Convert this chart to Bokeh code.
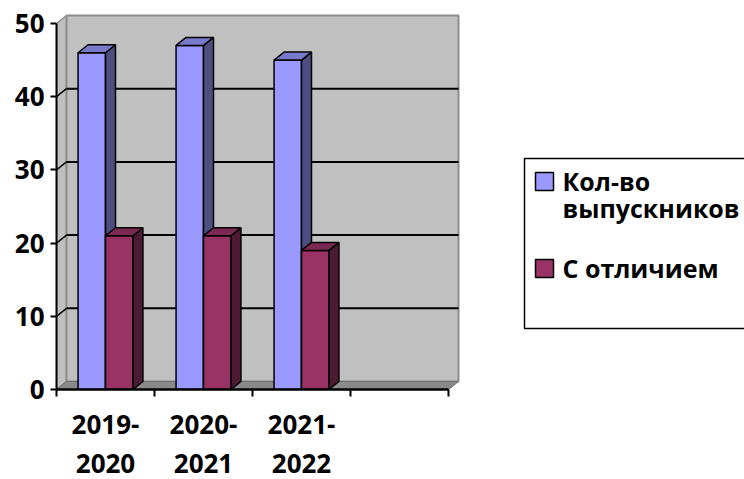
from bokeh.plotting import figure
from bokeh.models import Range1d, LinearAxis, FixedTicker
from bokeh.core.properties import value
from bokeh.embed import file_html
from bokeh.resources import INLINE

# ---- data ----
categories_line1 = ["2019-", "2020-", "2021-"]
categories_line2 = ["2020", "2021", "2022"]
graduates = [46, 47, 45]        # Кол-во выпускников
honors = [21, 21, 19]           # С отличием
series_names = ["Кол-во", "выпускников", "С отличием"]
y_ticks = [0, 10, 20, 30, 40, 50]

# ---- geometry (pixels of the picture) ----
PX_X0, PX_PER_CAT = 56, 98.0     # category 0 edge, px per category
PX_Y0, PX_PER_UNIT = 389, 7.32   # value 0, px per value unit
FRAME_TOP_PX = 10
N_CAT = 4
DX = 10 / PX_PER_CAT             # depth offset in category units
DY = 8 / PX_PER_UNIT             # depth offset in value units
BAR_W = 0.28
YMAX = 50

W, H = 744, 479

def sx(px):
    return (px - PX_X0) / PX_PER_CAT

def sy(py):
    return (PX_Y0 - py) / PX_PER_UNIT

FONT_NAME = "Open Sans"
FONT = value(FONT_NAME)
FSIZE = "26px"
LEGEND_FSIZE = "25px"

p = figure(width=W, height=H, output_backend="svg", toolbar_location=None,
           x_range=Range1d(0, sx(W)), y_range=Range1d(0, sy(FRAME_TOP_PX)),
           x_axis_location=None, y_axis_location=None,
           min_border_left=PX_X0, min_border_right=0,
           min_border_top=FRAME_TOP_PX, min_border_bottom=H - PX_Y0)
p.grid.visible = False
p.outline_line_color = None
p.background_fill_color = "white"
p.border_fill_color = "white"

# ---- walls and floor ----
p.patch([0, DX, DX, 0], [0, DY, YMAX + DY, YMAX], fill_color="#C0C0C0",
        line_color="#8C8C8C", line_width=1.5)
p.quad(left=DX, right=N_CAT + DX, bottom=DY, top=YMAX + DY, fill_color="#C0C0C0",
       line_color="#8C8C8C", line_width=2)
p.patch([0, N_CAT, N_CAT + DX, DX], [0, 0, DY, DY], fill_color="#8A8A8A",
        line_color="#6E6E6E", line_width=1)

# gridlines on back wall and side wall
grid_vals = y_ticks[1:-1]
p.segment(x0=[DX] * len(grid_vals), y0=[v + DY for v in grid_vals],
          x1=[N_CAT + DX] * len(grid_vals), y1=[v + DY for v in grid_vals],
          line_color="black", line_width=2)
p.segment(x0=[0] * len(grid_vals), y0=grid_vals,
          x1=[DX] * len(grid_vals), y1=[v + DY for v in grid_vals],
          line_color="black", line_width=1.5)

# ---- 3D bars ----
def bar3d(left, right, v, front, side, top):
    p.quad(left=left, right=right, bottom=0, top=v, fill_color=front,
           line_color="black", line_width=1.5)
    p.patch([right, right + DX, right + DX, right], [0, DY, v + DY, v],
            fill_color=side, line_color="black", line_width=1.5)
    p.patch([left, right, right + DX, left + DX], [v, v, v + DY, v + DY],
            fill_color=top, line_color="black", line_width=1.5)

for i, (g, h) in enumerate(zip(graduates, honors)):
    c = i + 0.5
    bar3d(c - BAR_W, c, g, "#9999FF", "#4D4D80", "#7A7ACC")
    bar3d(c, c + BAR_W, h, "#993366", "#4D1A33", "#7A2952")

# ---- axes ----
def style_labels(ax):
    ax.major_label_text_font = FONT_NAME
    ax.major_label_text_font_style = "bold"
    ax.major_label_text_font_size = FSIZE
    ax.major_label_text_color = "black"

yax = LinearAxis(ticker=FixedTicker(ticks=y_ticks), bounds=(0, YMAX))
yax.axis_line_color = "black"
yax.axis_line_width = 2
yax.major_tick_out = 6
yax.major_tick_in = 0
yax.major_tick_line_width = 2
yax.minor_tick_line_color = None
yax.major_label_standoff = 6
style_labels(yax)
p.add_layout(yax, "left")

centers = [i + 0.5 for i in range(len(categories_line1))]
xax = LinearAxis(ticker=FixedTicker(ticks=centers, minor_ticks=list(range(N_CAT + 1))),
                 bounds=(0, N_CAT))
xax.axis_line_color = "black"
xax.axis_line_width = 2.5
xax.major_tick_line_color = None
xax.major_tick_out = 0
xax.major_tick_in = 0
xax.minor_tick_line_color = "black"
xax.minor_tick_line_width = 2
xax.minor_tick_out = 7
xax.minor_tick_in = 0
xax.major_label_overrides = {c: lab for c, lab in zip(centers, categories_line1)}
xax.major_label_standoff = 18
style_labels(xax)
p.add_layout(xax, "below")

xax2 = LinearAxis(ticker=FixedTicker(ticks=centers), bounds=(0, N_CAT))
xax2.axis_line_color = None
xax2.major_tick_line_color = None
xax2.minor_tick_line_color = None
xax2.major_tick_out = 0
xax2.major_tick_in = 0
xax2.major_label_overrides = {c: lab for c, lab in zip(centers, categories_line2)}
xax2.major_label_standoff = 17
style_labels(xax2)
p.add_layout(xax2, "below")

# ---- legend (drawn manually, box runs off the right edge) ----
p.quad(left=sx(524), right=sx(770), bottom=sy(328), top=sy(158),
       fill_color="white", line_color="black", line_width=1.5)
p.quad(left=[sx(535), sx(535)], right=[sx(553), sx(553)],
       bottom=[sy(190), sy(277)], top=[sy(172), sy(259)],
       fill_color=["#9999FF", "#993366"], line_color="black", line_width=1.5)
p.text(x=[sx(562)] * 3, y=[sy(180), sy(207), sy(267)], text=series_names,
       text_font=FONT, text_font_style="bold", text_font_size=LEGEND_FSIZE,
       text_baseline="middle", text_align="left", text_color="black")

open("out.html", "w").write(file_html(p, INLINE))
